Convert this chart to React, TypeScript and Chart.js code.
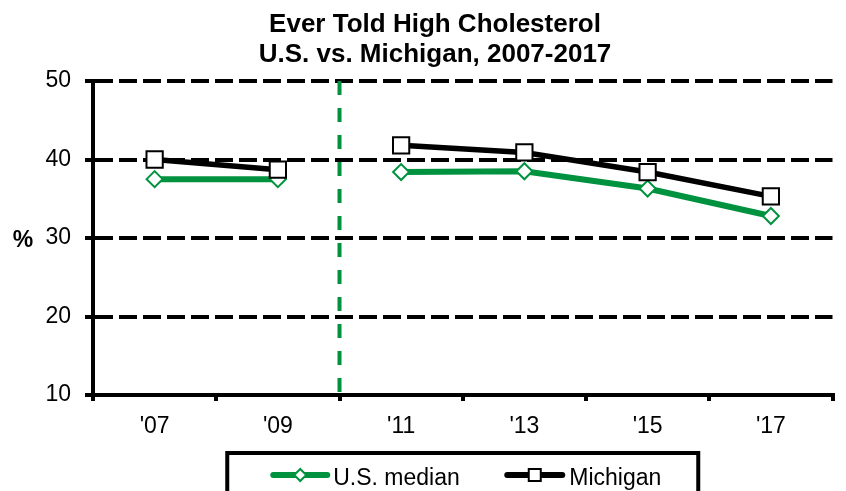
import React, { useEffect, useRef } from 'react';
import { Chart, registerables } from 'chart.js';

Chart.register(...registerables);

const categories = ["'07", "'09", "'11", "'13", "'15", "'17"];
const usMedian = [37.5, 37.5, 38.4, 38.5, 36.3, 32.8];
const michigan = [40.0, 38.7, 41.8, 40.9, 38.4, 35.3];
const yMin = 10;
const yMax = 50;
const yStep = 10;
const titleLines = ['Ever Told High Cholesterol', 'U.S. vs. Michigan, 2007-2017'];
const seriesNames = ['U.S. median', 'Michigan'];
const yAxisLabel = '%';
const breakAfterIndex = 1; // survey method change between '09 and '11

const GREEN = '#00923f';
const BLACK = '#000000';
const FONT = 'Arial, "Liberation Sans", Helvetica, sans-serif';

const decorPlugin = {
  id: 'decor',
  beforeDatasetsDraw(chart: any) {
    const { ctx, chartArea, scales } = chart;
    const x = scales.x;
    const xb = (x.getPixelForValue(breakAfterIndex) + x.getPixelForValue(breakAfterIndex + 1)) / 2;
    ctx.save();
    ctx.strokeStyle = GREEN;
    ctx.lineWidth = 4;
    ctx.setLineDash([14, 13]);
    ctx.beginPath();
    ctx.moveTo(xb, chartArea.top);
    ctx.lineTo(xb, chartArea.bottom);
    ctx.stroke();
    ctx.restore();
  },
  afterDraw(chart: any) {
    const { ctx, chartArea } = chart;
    ctx.save();
    // Title
    ctx.fillStyle = BLACK;
    ctx.font = `bold 26px ${FONT}`;
    ctx.textAlign = 'center';
    ctx.textBaseline = 'alphabetic';
    ctx.fillText(titleLines[0], 435, 32);
    ctx.fillText(titleLines[1], 435, 62);
    // Y axis label
    ctx.font = `bold 23px ${FONT}`;
    ctx.textBaseline = 'middle';
    ctx.fillText(yAxisLabel, 23, (chartArea.top + chartArea.bottom) / 2 + 3);

    // Legend box
    const cx = (chartArea.left + chartArea.right) / 2;
    const boxW = 471;
    const boxL = cx - boxW / 2;
    const boxT = 453;
    ctx.lineWidth = 4;
    ctx.strokeStyle = BLACK;
    ctx.strokeRect(boxL, boxT, boxW, 80);

    const ly = 475;
    // US median item
    ctx.lineWidth = 6;
    ctx.lineCap = 'round';
    ctx.strokeStyle = GREEN;
    ctx.beginPath();
    ctx.moveTo(boxL + 46, ly);
    ctx.lineTo(boxL + 100, ly);
    ctx.stroke();
    ctx.lineCap = 'butt';
    ctx.lineWidth = 2;
    ctx.fillStyle = '#ffffff';
    const dx = boxL + 73;
    ctx.beginPath();
    ctx.moveTo(dx - 6, ly);
    ctx.lineTo(dx, ly - 6);
    ctx.lineTo(dx + 6, ly);
    ctx.lineTo(dx, ly + 6);
    ctx.closePath();
    ctx.fill();
    ctx.stroke();
    ctx.fillStyle = BLACK;
    ctx.font = `23px ${FONT}`;
    ctx.textAlign = 'left';
    ctx.textBaseline = 'alphabetic';
    ctx.fillText(seriesNames[0], boxL + 106, 485);

    // Michigan item
    ctx.lineWidth = 6;
    ctx.lineCap = 'round';
    ctx.strokeStyle = BLACK;
    ctx.beginPath();
    ctx.moveTo(boxL + 280, ly);
    ctx.lineTo(boxL + 335, ly);
    ctx.stroke();
    ctx.lineCap = 'butt';
    ctx.lineWidth = 2;
    ctx.fillStyle = '#ffffff';
    const sx = boxL + 307.5;
    ctx.fillRect(sx - 6, ly - 6, 12, 12);
    ctx.strokeRect(sx - 6, ly - 6, 12, 12);
    ctx.fillStyle = BLACK;
    ctx.fillText(seriesNames[1], boxL + 342, 485);
    ctx.restore();
  },
};

export default function App() {
  const canvasRef = useRef<HTMLCanvasElement | null>(null);

  useEffect(() => {
    document.body.style.margin = '0';
    const canvas = canvasRef.current;
    if (!canvas) return;
    const hideBreak = (c: any) => (c.p0DataIndex === breakAfterIndex ? 'rgba(0,0,0,0)' : undefined);
    const chart = new Chart(canvas, {
      type: 'line',
      data: {
        labels: categories,
        datasets: [
          {
            label: seriesNames[0],
            data: usMedian,
            borderColor: GREEN,
            backgroundColor: '#ffffff',
            borderWidth: 6,
            pointStyle: 'rectRot',
            pointRadius: 8,
            pointBorderWidth: 2,
            pointBorderColor: GREEN,
            pointBackgroundColor: '#ffffff',
            tension: 0,
            order: 1,
            segment: { borderColor: hideBreak },
          },
          {
            label: seriesNames[1],
            data: michigan,
            borderColor: BLACK,
            backgroundColor: '#ffffff',
            borderWidth: 5.5,
            pointStyle: 'rect',
            pointRadius: 11.5,
            pointBorderWidth: 2,
            pointBorderColor: BLACK,
            pointBackgroundColor: '#ffffff',
            tension: 0,
            order: 0,
            segment: { borderColor: hideBreak },
          },
        ],
      },
      options: {
        animation: false,
        responsive: true,
        maintainAspectRatio: false,
        layout: { padding: { top: 81, right: 6, bottom: 0, left: 0 } },
        plugins: {
          legend: { display: false },
          title: { display: false },
          tooltip: { enabled: false },
        },
        scales: {
          x: {
            type: 'category',
            offset: true,
            grid: {
              display: true,
              offset: true,
              drawOnChartArea: false,
              drawTicks: true,
              tickLength: 6,
              lineWidth: 4,
              color: BLACK,
            },
            border: { display: true, width: 4, color: BLACK },
            ticks: {
              color: BLACK,
              font: { family: FONT, size: 23 },
              padding: 12,
              maxRotation: 0,
              autoSkip: false,
            },
            afterFit: (s: any) => {
              s.height = 96;
            },
          },
          y: {
            min: yMin,
            max: yMax,
            grid: {
              lineWidth: 4,
              color: BLACK,
              tickLength: 8,
              tickBorderDash: [],
              drawTicks: true,
            },
            border: { display: true, width: 4, color: BLACK, dash: [18, 6] },
            ticks: {
              stepSize: yStep,
              color: BLACK,
              font: { family: FONT, size: 23 },
              padding: 14,
            },
            afterFit: (s: any) => {
              s.width = 93;
            },
          },
        },
      },
      plugins: [decorPlugin],
    });
    return () => chart.destroy();
  }, []);

  return (
    <div style={{ position: 'fixed', left: 0, top: 0, width: 846, height: 491, background: '#fff' }}>
      <canvas ref={canvasRef} />
    </div>
  );
}
